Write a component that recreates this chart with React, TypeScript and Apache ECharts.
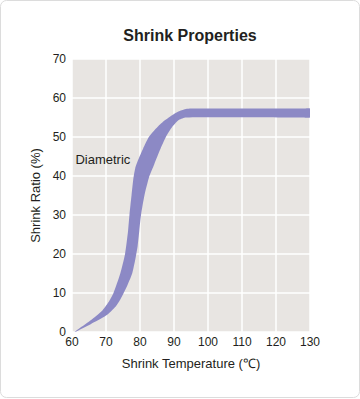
import React, { useEffect, useRef } from "react";
import * as echarts from "echarts";

const xTicks = [60, 70, 80, 90, 100, 110, 120, 130];
const yTicks = [0, 10, 20, 30, 40, 50, 60, 70];

// Upper (left) boundary of the Diametric band: temperature (℃) vs shrink ratio (%)
const upperTemp = [60.8, 65.5, 69, 71, 72.2, 74.2, 75.6, 76.5, 76.9, 77.5, 78, 78.6, 79.5, 80.9, 82.6, 85.2, 87.2, 88.8, 90.6, 92, 93.5, 95, 128, 130];
const upperRatio = [0, 3, 5.6, 8, 10, 15, 20, 26, 30, 35, 39, 42, 44.2, 47, 50, 52.6, 54.2, 55.2, 56.2, 56.8, 57.2, 57.3, 57.3, 57.3];

// Lower (right) boundary of the Diametric band
const lowerTemp = [60.8, 65.5, 70, 72.8, 74, 75.2, 76.3, 77.7, 78.6, 79.3, 79.8, 80.3, 81.3, 82.6, 84.2, 85.9, 87.6, 89.5, 91.5, 93.5, 128, 130];
const lowerRatio = [0, 2, 4.2, 6.5, 8, 10, 12, 15, 18.5, 22, 26, 30, 35, 39.5, 43, 46.7, 50, 52.6, 54.4, 55, 55, 55];

const seriesName = "Diametric";
const labelPos = [61, 44.2];

const FONT = "'Liberation Sans', Arial, sans-serif";
const TEXT = "#231f20";

export default function App() {
  const ref = useRef<HTMLDivElement>(null);
  useEffect(() => {
    if (!ref.current) return;
    const chart = echarts.init(ref.current, undefined, { renderer: "svg" });
    chart.setOption({
      animation: false,
      textStyle: { fontFamily: FONT },
      graphic: [
        {
          type: "rect",
          shape: { x: 0.5, y: 0.5, width: 359, height: 397, r: 6 },
          style: { fill: "none", stroke: "#dcdcdc", lineWidth: 1 },
          silent: true,
        },
        {
          type: "text",
          x: 190,
          y: 35,
          style: {
            text: "Shrink Properties",
            align: "center",
            verticalAlign: "middle",
            fontSize: 16,
            fontWeight: "bold",
            fill: TEXT,
            fontFamily: FONT,
          },
          silent: true,
        },
      ],
      grid: {
        left: 72,
        right: 50,
        top: 59,
        bottom: 67,
        show: true,
        backgroundColor: "#e8e5e2",
        borderWidth: 0,
      },
      xAxis: {
        type: "value",
        min: xTicks[0],
        max: xTicks[xTicks.length - 1],
        interval: 10,
        name: "Shrink Temperature (℃)",
        nameLocation: "middle",
        nameGap: 25,
        nameTextStyle: { fontSize: 13, color: TEXT, fontFamily: FONT },
        axisLine: { show: false },
        axisTick: { show: false },
        axisLabel: { fontSize: 12, color: TEXT, margin: 4, fontFamily: FONT },
        splitLine: { show: true, lineStyle: { color: "#ffffff", width: 1.5 } },
      },
      yAxis: {
        type: "value",
        min: yTicks[0],
        max: yTicks[yTicks.length - 1],
        interval: 10,
        name: "Shrink Ratio (%)",
        nameLocation: "middle",
        nameGap: 29,
        nameRotate: 90,
        nameTextStyle: { fontSize: 13, color: TEXT, fontFamily: FONT },
        axisLine: { show: false },
        axisTick: { show: false },
        axisLabel: { fontSize: 12, color: TEXT, margin: 6, fontFamily: FONT },
        splitLine: { show: true, lineStyle: { color: "#ffffff", width: 1.5 } },
      },
      series: [
        {
          type: "custom",
          name: seriesName,
          clip: true,
          data: [[0, 0]],
          renderItem: (_params: any, api: any) => {
            const pts: number[][] = [];
            for (let i = 0; i < upperTemp.length; i++) pts.push(api.coord([upperTemp[i], upperRatio[i]]));
            for (let i = lowerTemp.length - 1; i >= 1; i--) pts.push(api.coord([lowerTemp[i], lowerRatio[i]]));
            const lp = api.coord(labelPos);
            return {
              type: "group",
              children: [
                {
                  type: "polygon",
                  shape: { points: pts, smooth: 0.2 },
                  style: { fill: "#8c89c5" },
                },
                {
                  type: "text",
                  x: lp[0],
                  y: lp[1],
                  style: {
                    text: seriesName,
                    fill: TEXT,
                    fontSize: 13,
                    fontFamily: FONT,
                    verticalAlign: "middle",
                    align: "left",
                  },
                },
              ],
            };
          },
        },
      ],
    });
    return () => chart.dispose();
  }, []);
  return (
    <div
      ref={ref}
      style={{ position: "absolute", left: 0, top: 0, width: 360, height: 399 }}
    />
  );
}
